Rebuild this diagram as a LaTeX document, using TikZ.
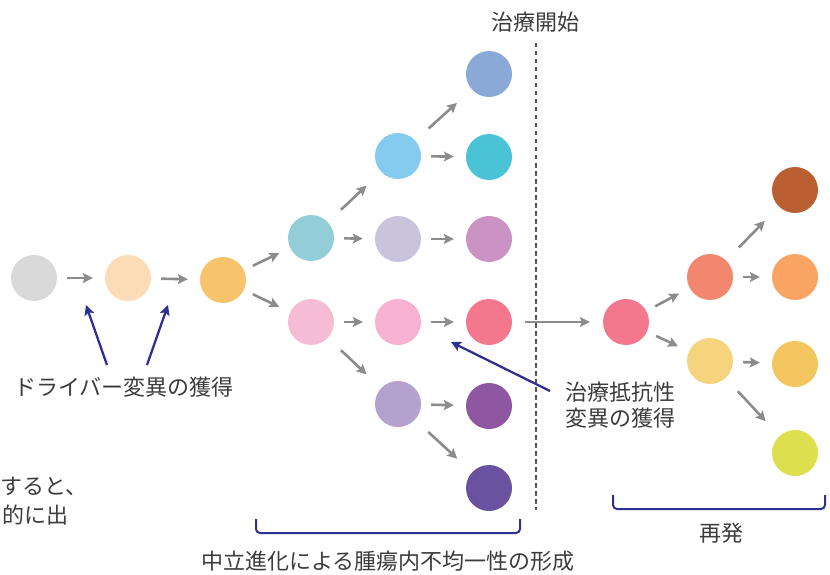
\documentclass[tikz,border=0pt]{standalone}
\usepackage{fontspec}
\newfontfamily\jpfont{Noto Sans CJK JP}
\usetikzlibrary{arrows.meta}
\definecolor{arrowgray}{HTML}{8C8C8C}
\definecolor{navy}{HTML}{2E3192}
\definecolor{txt}{HTML}{3C3C3C}
\definecolor{dashgray}{HTML}{555555}
\definecolor{cgray}{HTML}{D9D9D9}
\definecolor{cpeach}{HTML}{FBDCB6}
\definecolor{corange}{HTML}{F7C46C}
\definecolor{cteal}{HTML}{93CDD7}
\definecolor{cpinkA}{HTML}{F6BCD6}
\definecolor{csky}{HTML}{85CBF0}
\definecolor{clav}{HTML}{C9C4DC}
\definecolor{cpinkB}{HTML}{F7B2D2}
\definecolor{clilac}{HTML}{B2A2CD}
\definecolor{cblue}{HTML}{8BA9D6}
\definecolor{ccyan}{HTML}{49C3D5}
\definecolor{cmauve}{HTML}{CA93C4}
\definecolor{crose}{HTML}{F3788D}
\definecolor{cpurple}{HTML}{8F57A1}
\definecolor{cindigo}{HTML}{6A52A0}
\definecolor{csalmon}{HTML}{F3866E}
\definecolor{csand}{HTML}{F6D47E}
\definecolor{cbrown}{HTML}{B95F31}
\definecolor{capricot}{HTML}{F9A462}
\definecolor{cgold}{HTML}{F4C65F}
\definecolor{clime}{HTML}{DCE04F}

\begin{document}
\begin{tikzpicture}[x=1pt,y=-1pt,
    cell/.style={circle,minimum size=46pt,inner sep=0pt},
    spread/.style={draw=arrowgray,line width=2.6pt,-{Stealth[length=10pt,width=10pt,inset=2pt]},shorten <=10pt,shorten >=12pt},
    spreadfar/.style={spread,shorten <=18pt,shorten >=20pt},
    mut/.style={draw=navy,line width=2.3pt,-{Stealth[length=10pt,width=10pt,inset=2pt]}},
    lbl/.style={font=\jpfont\fontsize{22}{26}\selectfont,text=txt,inner sep=0pt},
    brace/.style={draw=navy,line width=2pt,rounded corners=4pt}]
        \useasboundingbox (0,0) rectangle (830,575);
        \node[cell,fill=cgray] (n0) at (34,278) {};
        \node[cell,fill=cpeach] (d1) at (128,278) {};
        \node[cell,fill=corange] (d2) at (223,280) {};
        \node[cell,fill=cteal] (a1) at (311,238) {};
        \node[cell,fill=cpinkA] (a2) at (311,322) {};
        \node[cell,fill=csky] (b1) at (398,156) {};
        \node[cell,fill=clav] (b2) at (398,239) {};
        \node[cell,fill=cpinkB] (b3) at (398,322) {};
        \node[cell,fill=clilac] (b4) at (398,404) {};
        \node[cell,fill=cblue] (c1) at (489,74) {};
        \node[cell,fill=ccyan] (c2) at (489,157) {};
        \node[cell,fill=cmauve] (c3) at (489,239) {};
        \node[cell,fill=crose] (c4) at (489,322) {};
        \node[cell,fill=cpurple] (c5) at (489,406) {};
        \node[cell,fill=cindigo] (c6) at (489,488) {};
        \node[cell,fill=crose] (r0) at (626,322) {};
        \node[cell,fill=csalmon] (r1) at (710,277) {};
        \node[cell,fill=csand] (r2) at (710,361) {};
        \node[cell,fill=cbrown] (s1) at (795,190) {};
        \node[cell,fill=capricot] (s2) at (795,277) {};
        \node[cell,fill=cgold] (s3) at (795,364) {};
        \node[cell,fill=clime] (s4) at (795,453) {};
        \draw[spread] (n0) -- (d1);
        \draw[spread] (d1) -- (d2);
        \draw[spread] (d2) -- (a1);
        \draw[spread] (d2) -- (a2);
        \draw[spreadfar] (a1) -- (b1);
        \draw[spread] (a1) -- (b2);
        \draw[spread] (a2) -- (b3);
        \draw[spreadfar] (a2) -- (b4);
        \draw[spreadfar] (b1) -- (c1);
        \draw[spread] (b1) -- (c2);
        \draw[spread] (b2) -- (c3);
        \draw[spread] (b3) -- (c4);
        \draw[spread] (b4) -- (c5);
        \draw[spreadfar] (b4) -- (c6);
        \draw[spread] (r0) -- (r1);
        \draw[spread] (r0) -- (r2);
        \draw[spreadfar] (r1) -- (s1);
        \draw[spread] (r1) -- (s2);
        \draw[spread] (r2) -- (s3);
        \draw[spreadfar] (r2) -- (s4);
        \node[lbl] (start) at (535,22) {治療開始};
        \coordinate (cut0) at (536,43);
        \coordinate (cut1) at (536,510);
        \draw[dashgray,line width=1.4pt,dash pattern=on 4.5pt off 3.5pt] (cut0) -- (cut1);
        \draw[spread,shorten <=13pt,shorten >=13pt] (c4) -- (r0);
        \node[lbl] (drv) at (124,387) {ドライバー変異の獲得};
        \coordinate (drvA) at (107,365);
        \coordinate (drvB) at (147,365);
        \coordinate (tipA) at (86,305);
        \coordinate (tipB) at (168,305);
        \draw[mut] (drvA) -- (tipA);
        \draw[mut] (drvB) -- (tipB);
        \node[lbl,align=left,anchor=west] (res) at (565,405) {治療抵抗性\\変異の獲得};
        \coordinate (resA) at (550,391);
        \coordinate (tipC) at (451,342);
        \draw[mut] (resA) -- (tipC);
        \draw[brace] (256,519) -- (256,533) -- (520,533) -- (520,519);
        \node[lbl] (hetero) at (388,561) {中立進化による腫瘍内不均一性の形成};
        \draw[brace] (613,495) -- (613,509) -- (825,509) -- (825,495);
        \node[lbl] (relapse) at (721,533) {再発};
        \node[lbl,anchor=west] (cutA) at (0,486) {すると、};
        \node[lbl,anchor=west] (cutB) at (2,515) {的に出};
\end{tikzpicture}
\end{document}
